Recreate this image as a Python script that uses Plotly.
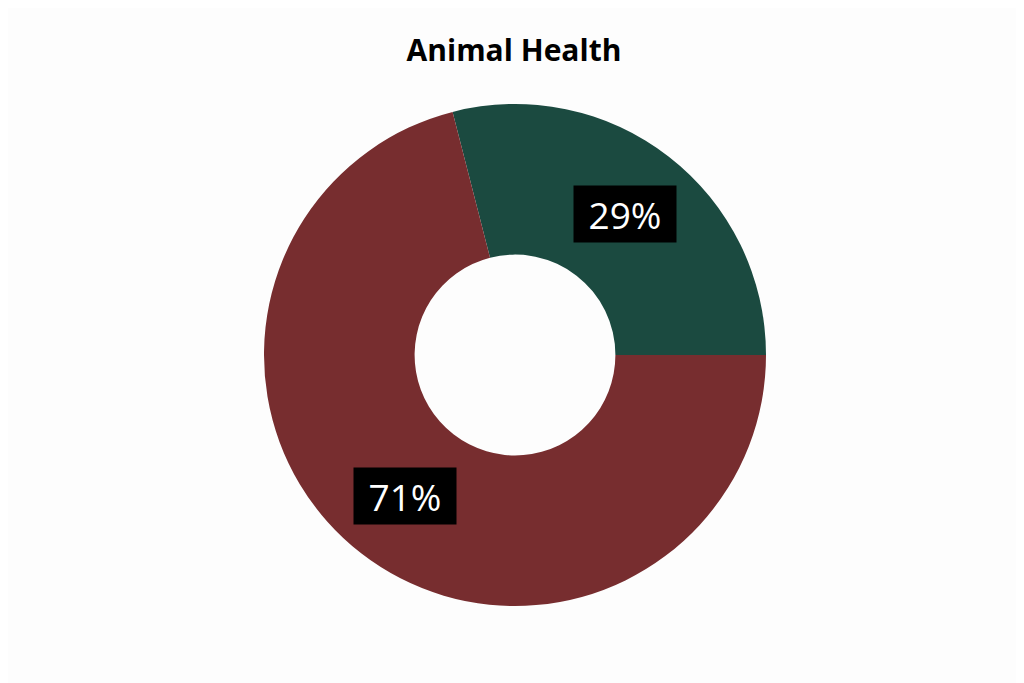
import numpy as np
import plotly.graph_objects as go

## Data
labels = ["Yes", "No"]
values = [29, 71]
colors = ["#1b4a40", "#772d2f"]

W, H = 1024, 683
# pie placement in figure pixels (page has an 8px body margin)
CX, CY, R = 507, 347, 251
HOLE = 0.4
START = -14.4  # degrees clockwise from 12 o'clock

fig = go.Figure()
fig.add_trace(go.Pie(
    labels=labels, values=values,
    marker=dict(colors=colors, line=dict(width=0)),
    hole=HOLE, sort=False, direction="clockwise", rotation=START,
    textinfo="none", hoverinfo="label+percent", showlegend=False,
    domain=dict(x=[(CX - R) / W, (CX + R) / W], y=[(H - CY - R) / H, (H - CY + R) / H]),
))

# label boxes at the middle of each slice
total = sum(values)
start = START
r_mid = R * (1 + HOLE) / 2 + 3
for v in values:
    mid = start + 360 * v / total / 2
    start += 360 * v / total
    ang = np.deg2rad(90 - mid)
    fig.add_annotation(
        x=(CX + r_mid * np.cos(ang)) / W, y=(H - CY + r_mid * np.sin(ang)) / H,
        xref="paper", yref="paper", xanchor="center", yanchor="middle", showarrow=False,
        text=f"{round(100 * v / total)}%",
        font=dict(family="Open Sans", size=37, color="white"),
        bgcolor="black", borderpad=5, width=92, height=46,
    )

fig.update_layout(
    width=W, height=H,
    margin=dict(l=0, r=0, t=0, b=0),
    paper_bgcolor="#fdfdfd", plot_bgcolor="#fdfdfd",
    title=dict(text="<b>Animal Health</b>", x=(514 - 8) / W, xanchor="center", y=1 - 42 / H, yanchor="middle",
               font=dict(family="Open Sans", size=30, color="black")),
)

fig.write_html("out.html")
